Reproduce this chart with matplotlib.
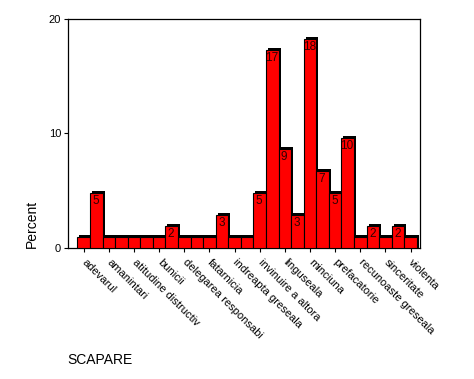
import matplotlib
matplotlib.use('Agg')
import matplotlib.pyplot as plt

# percent of answers per category (27 bars, only every second one is labelled)
percent = [0.96, 4.81, 0.96, 0.96, 0.96, 0.96, 0.96, 1.92, 0.96, 0.96,
           0.96, 2.88, 0.96, 0.96, 4.81, 17.31, 8.65, 2.88, 18.27, 6.73,
           4.81, 9.62, 0.96, 1.92, 0.96, 1.92, 0.96]
tick_labels = ["adevarul", "amanintari", "atitudine distructiv", "bunicii",
               "delegarea responsabi", "fatarnicia", "indreapta greseala",
               "invinuire a altora", "linguseala", "minciuna", "prefacatorie",
               "recunoaste greseala", "sinceritate", "violenta"]
y_ticks = [0, 10, 20]

plt.rcParams['font.family'] = ['Liberation Sans', 'DejaVu Sans']

fig = plt.figure(figsize=(4.74, 3.79), dpi=100)
ax = fig.add_axes([0.1435, 0.3456, 0.7425, 0.6044])

x = list(range(len(percent)))

# fake 3d edge: dark copy of the bars shifted up/right
ax.bar([i + 0.16 for i in x], [p + 0.14 for p in percent], width=1.0,
       color='black', linewidth=0, zorder=2)
ax.bar(x, percent, width=1.0, color='#ff0000', edgecolor='black',
       linewidth=0.8, zorder=3)

# rounded values inside the bars (skip the 1% ones)
for i, p in enumerate(percent):
    if p < 1.5:
        continue
    ax.text(i - 0.05, p - 0.2, f"{p:.0f}", ha='center', va='top',
            fontsize=8.5, color='#300000', zorder=4)

ax.set_xlim(-1.25, len(percent) - 0.25)
ax.set_ylim(0, 20)
ax.set_yticks(y_ticks)
ax.set_yticklabels([str(t) for t in y_ticks], fontsize=8)
ax.set_xticks(x[::2])
ax.set_xticklabels(tick_labels, rotation=-45, ha='left', va='center',
                   rotation_mode='anchor', fontsize=8)
ax.tick_params(axis='both', direction='out', length=3, width=0.8, pad=2)
ax.tick_params(axis='x', pad=6)
for s in ax.spines.values():
    s.set_linewidth(0.9)

fig.text(0.068, 0.41, "Percent", rotation=90, ha='center', va='center',
         fontsize=10)
fig.text(0.1415, 0.05, "SCAPARE", ha='left', va='center', fontsize=10)

fig.savefig("out.png", dpi=100)
